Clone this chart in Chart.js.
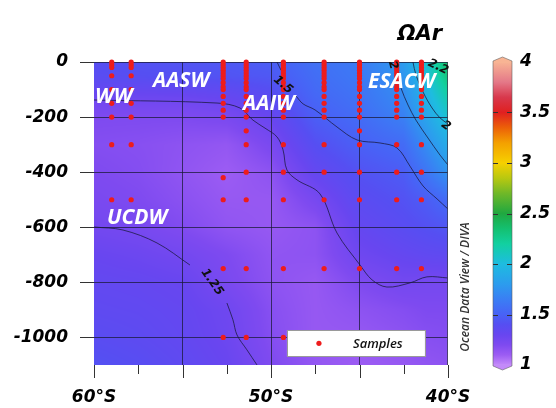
<!DOCTYPE html>
<html><head><meta charset="utf-8">
<script src="https://cdn.jsdelivr.net/npm/chart.js@4.4.1/dist/chart.umd.min.js"></script>
<style>
html,body{margin:0;padding:0;background:#fff;}
#wrap{position:relative;width:556px;height:408px;overflow:hidden;}
#main{position:absolute;left:0;top:0;width:556px;height:408px;}
#cb{position:absolute;left:470px;top:0;width:86px;height:408px;}
</style></head><body>
<div id="wrap"><canvas id="main" width="556" height="408"></canvas><canvas id="cb" width="86" height="408"></canvas></div>
<script>
// ---------- data ----------
const gridLat = [-60, -57.5, -55, -52.5, -50, -47.5, -45, -42.5, -41.25, -40];
const gridDepth = [0, -50, -100, -150, -200, -300, -400, -500, -600, -700, -800, -900, -1000, -1100];
const omegaAr = [
  [1.40,1.42,1.43,1.45,1.48,1.58,1.63,1.80,2.05,2.38],
  [1.38,1.40,1.41,1.43,1.45,1.56,1.62,1.77,2.00,2.32],
  [1.32,1.32,1.33,1.35,1.40,1.54,1.60,1.73,1.95,2.22],
  [1.25,1.25,1.25,1.28,1.36,1.51,1.58,1.70,1.90,2.13],
  [1.20,1.20,1.20,1.22,1.30,1.48,1.55,1.66,1.85,2.05],
  [1.18,1.17,1.15,1.13,1.22,1.40,1.49,1.55,1.72,1.90],
  [1.20,1.18,1.14,1.10,1.15,1.32,1.42,1.47,1.60,1.76],
  [1.22,1.20,1.16,1.12,1.12,1.23,1.37,1.42,1.47,1.55],
  [1.25,1.23,1.19,1.14,1.12,1.15,1.32,1.38,1.41,1.44],
  [1.30,1.28,1.25,1.20,1.14,1.15,1.27,1.32,1.34,1.35],
  [1.33,1.32,1.30,1.22,1.15,1.12,1.20,1.25,1.24,1.24],
  [1.35,1.34,1.32,1.27,1.17,1.12,1.15,1.18,1.20,1.20],
  [1.38,1.36,1.33,1.28,1.18,1.12,1.12,1.15,1.17,1.18],
  [1.42,1.39,1.35,1.30,1.20,1.13,1.10,1.12,1.14,1.15]
];

const stationLat = [-59.0, -57.9, -52.7, -51.4, -49.3, -47.0, -45.0, -42.9, -41.5];
const profileTop = [0, 10, 20, 30, 40, 50, 60, 75, 90, 100, 125, 150, 175, 200];
const station1Depths = [0, 10, 20, 50, 100, 150, 200, 300, 500];
const station2Depths = [0, 10, 20, 50, 100, 150, 200, 300, 500];
const station3Deep = [420, 500, 750, 1000];
const station4Deep = [250, 300, 400, 500, 750, 1000];
const station5Deep = [300, 400, 500, 750, 1000];
const station6Deep = [300, 400, 500, 750];
const station7Deep = [250, 300, 400, 500, 750];
const station8Deep = [300, 400, 500, 750];
const station9Deep = [300, 400, 500, 750];

// contour lines [lat, depth]
const contour125a = [[-60,-138],[-53.05,-149],[-51.75,-167],[-51.02,-211],[-50.34,-240],[-49.66,-272],[-49.32,-319],[-49.10,-392],[-48.53,-428],[-47.23,-479],[-46.27,-621],[-44.97,-737],[-44.29,-791],[-43.45,-817],[-42.15,-802],[-41.19,-780],[-40,-784]];
const contour125b1 = [[-60,-599],[-58.36,-610],[-56.44,-657],[-54.58,-737]];
const contour125b2 = [[-52.49,-875],[-52.15,-936],[-51.92,-991],[-51.36,-1045],[-50.79,-1100]];
const contour15a = [[-49.66,0],[-49.44,-29]];
const contour15b = [[-48.59,-123],[-48.19,-152],[-47.51,-174],[-46.27,-236],[-45.14,-283],[-43.84,-294],[-42.88,-312],[-42.15,-378],[-41.41,-450],[-40.62,-497],[-40,-534]];
const contour2 = [[-42.94,-36],[-42.66,-94],[-42.26,-156],[-41.81,-211],[-41.13,-276],[-40.45,-338],[-40,-374]];
const contour22 = [[-41.98,0],[-41.81,-47],[-41.41,-109],[-40.9,-167],[-40.45,-203],[-40,-225]];

const contourLabels = [
  {text:'1.25', lat:-53.33, dep:-799, angle:55},
  {text:'1.5', lat:-49.32, dep:-83, angle:40},
  {text:'2', lat:-43.11, dep:-12, angle:75},
  {text:'2.2', lat:-40.56, dep:-18, angle:25},
  {text:'2', lat:-40.12, dep:-232, angle:35}
];
const waterMasses = [
  {text:'WW', lat:-59.95, dep:-149},
  {text:'AASW', lat:-56.67, dep:-91},
  {text:'AAIW', lat:-51.58, dep:-174},
  {text:'ESACW', lat:-44.52, dep:-94},
  {text:'UCDW', lat:-59.27, dep:-588}
];

const cbTicks = [1, 1.5, 2, 2.5, 3, 3.5, 4];
const cmapValues = [1.0,1.1,1.2,1.3,1.4,1.5,1.65,1.8,2.0,2.2,2.35,2.5,2.7,2.85,3.0,3.2,3.35,3.5,3.65,3.8,4.0];
const cmapColors = ['#c38af9','#9c5cf3','#7e4af0','#6846f0','#564ef2','#4862f6','#3a7ef4','#2c9cee','#1ebce0','#12d0a0','#14c070','#20a840','#70b828','#b8c810','#f6d000','#f4a000','#ec6008','#e02020','#d8384c','#e47888','#f8b494'];

// ---------- helpers ----------
const cmapRGB = cmapColors.map(h => [parseInt(h.slice(1,3),16), parseInt(h.slice(3,5),16), parseInt(h.slice(5,7),16)]);
function colorFor(v){
  if (v <= cmapValues[0]) return cmapRGB[0];
  const n = cmapValues.length;
  if (v >= cmapValues[n-1]) return cmapRGB[n-1];
  for (let i=0;i<n-1;i++){
    if (v <= cmapValues[i+1]){
      const t = (v - cmapValues[i])/(cmapValues[i+1]-cmapValues[i]);
      const a = cmapRGB[i], b = cmapRGB[i+1];
      return [a[0]+(b[0]-a[0])*t, a[1]+(b[1]-a[1])*t, a[2]+(b[2]-a[2])*t];
    }
  }
  return cmapRGB[n-1];
}
function locate(arr, v){
  for (let i=0;i<arr.length-1;i++){
    const a=arr[i], b=arr[i+1];
    if ((v-a)*(v-b) <= 0) return [i, (v-a)/(b-a)];
  }
  const inc = arr[arr.length-1] > arr[0];
  if ((inc && v < arr[0]) || (!inc && v > arr[0])) return [0,0];
  return [arr.length-2, 1];
}
function fieldAt(lat, dep){
  const [i, tx] = locate(gridLat, lat);
  const [j, ty] = locate(gridDepth, dep);
  const v00 = omegaAr[j][i], v10 = omegaAr[j][i+1], v01 = omegaAr[j+1][i], v11 = omegaAr[j+1][i+1];
  return (v00*(1-tx)+v10*tx)*(1-ty) + (v01*(1-tx)+v11*tx)*ty;
}

// ---------- datasets ----------
const stationDepths = [
  station1Depths, station2Depths,
  profileTop.concat(station3Deep), profileTop.concat(station4Deep), profileTop.concat(station5Deep),
  profileTop.concat(station6Deep), profileTop.concat(station7Deep), profileTop.concat(station8Deep),
  profileTop.concat(station9Deep)
];
const samplePoints = [];
stationLat.forEach((lat, k) => stationDepths[k].forEach(d => samplePoints.push({x: lat, y: -d})));

const lineStyle = {showLine:true, pointRadius:0, borderColor:'rgba(25,25,60,0.85)', borderWidth:0.9, tension:0.35, fill:false};
function contourSet(arr){ return Object.assign({data: arr.map(p => ({x:p[0], y:p[1]}))}, lineStyle); }

const FONT = '"DejaVu Sans", "Liberation Sans", sans-serif';
const axisFont = {family: FONT, size: 17, style: 'italic', weight: 'bold'};
const gridColor = 'rgba(25,25,55,0.75)';

const fieldPlugin = {
  id: 'field',
  beforeDraw(chart){
    const {ctx, chartArea:ca, scales} = chart;
    const x0 = Math.round(ca.left), y0 = Math.round(ca.top);
    const w = Math.round(ca.right) - x0, h = Math.round(ca.bottom) - y0;
    const img = ctx.createImageData(w, h);
    for (let py=0; py<h; py++){
      const dep = scales.y.getValueForPixel(y0 + py + 0.5);
      for (let px=0; px<w; px++){
        const lat = scales.x.getValueForPixel(x0 + px + 0.5);
        const c = colorFor(fieldAt(lat, dep));
        const o = (py*w + px)*4;
        img.data[o]=c[0]; img.data[o+1]=c[1]; img.data[o+2]=c[2]; img.data[o+3]=255;
      }
    }
    ctx.putImageData(img, x0, y0);
  }
};

const overlayPlugin = {
  id: 'overlay',
  afterDraw(chart){
    const {ctx, chartArea:ca, scales} = chart;
    const X = v => scales.x.getPixelForValue(v), Y = v => scales.y.getPixelForValue(v);
    ctx.save();
    // x tick marks
    ctx.strokeStyle = '#333'; ctx.lineWidth = 1;
    scales.x.ticks.forEach(t => {
      const px = Math.round(X(t.value)) + 0.5;
      const len = (t.value % 5 === 0) ? 13 : 9;
      ctx.beginPath(); ctx.moveTo(px, ca.bottom); ctx.lineTo(px, ca.bottom + len); ctx.stroke();
    });
    // right border
    ctx.strokeStyle = 'rgba(60,60,80,0.8)';
    ctx.beginPath(); ctx.moveTo(Math.round(ca.right)-0.5, ca.top); ctx.lineTo(Math.round(ca.right)-0.5, ca.bottom); ctx.stroke();
    // contour labels
    ctx.fillStyle = '#111';
    ctx.font = 'italic bold 12px ' + FONT;
    ctx.textAlign = 'center'; ctx.textBaseline = 'middle';
    contourLabels.forEach(l => {
      ctx.save(); ctx.translate(X(l.lat), Y(l.dep)); ctx.rotate(l.angle*Math.PI/180);
      ctx.fillText(l.text, 0, 0); ctx.restore();
    });
    // water mass labels
    ctx.fillStyle = '#ffffff';
    ctx.font = 'italic bold 21px "Open Sans", ' + FONT;
    ctx.textAlign = 'left'; ctx.textBaseline = 'alphabetic';
    waterMasses.forEach(l => ctx.fillText(l.text, X(l.lat), Y(l.dep)));
    // legend box
    const lx = X(-49.1), ly = Y(-974), lw = 138, lh = 26;
    ctx.fillStyle = '#fff'; ctx.fillRect(lx, ly, lw, lh);
    ctx.strokeStyle = '#9a9a9a'; ctx.lineWidth = 1; ctx.strokeRect(Math.round(lx)+0.5, Math.round(ly)+0.5, lw, lh);
    ctx.fillStyle = '#ee1c1c';
    ctx.beginPath(); ctx.arc(lx + 32, ly + lh/2, 2.6, 0, Math.PI*2); ctx.fill();
    ctx.fillStyle = '#111'; ctx.font = 'italic 600 13px "Open Sans", ' + FONT;
    ctx.textBaseline = 'middle';
    ctx.fillText('Samples', lx + 66, ly + lh/2 + 1);
    // title
    ctx.fillStyle = '#000'; ctx.font = 'italic bold 21px ' + FONT;
    ctx.textAlign = 'center'; ctx.textBaseline = 'alphabetic';
    ctx.fillText('ΩAr', 420, 40);
    // ODV credit
    ctx.save(); ctx.translate(466, 287); ctx.rotate(-Math.PI/2);
    ctx.fillStyle = '#333'; ctx.font = 'italic 600 12px "Open Sans", ' + FONT;
    ctx.textAlign = 'center'; ctx.textBaseline = 'middle';
    ctx.fillText('Ocean Data View / DIVA', 0, 0);
    ctx.restore();
    ctx.restore();
  }
};

new Chart(document.getElementById('main'), {
  type: 'scatter',
  data: { datasets: [
    {data: samplePoints, pointRadius: 2.6, pointBackgroundColor: '#ee1c1c', pointBorderWidth: 0, clip: false},
    contourSet(contour125a), contourSet(contour125b1), contourSet(contour125b2),
    contourSet(contour15a), contourSet(contour15b), contourSet(contour2), contourSet(contour22)
  ]},
  options: {
    responsive: false, animation: false, events: [],
    layout: {padding: {top: 62, right: 108, bottom: 0, left: 0}},
    plugins: {legend: {display: false}, tooltip: {enabled: false}},
    scales: {
      x: {type: 'linear', min: -60, max: -40,
        afterFit: s => { s.height = 43; },
        ticks: {stepSize: 2.5, autoSkip: false, maxRotation: 0, padding: 22, color: '#000', font: axisFont,
          callback: v => (v % 10 === 0) ? Math.abs(v) + '°S' : ''},
        grid: {color: c => (c.tick && [-55, -50, -45].includes(c.tick.value)) ? gridColor : 'rgba(0,0,0,0)', drawTicks: false, lineWidth: 1},
        border: {display: false}},
      y: {type: 'linear', min: -1100, max: 0,
        afterFit: s => { s.width = 94; },
        ticks: {stepSize: 200, includeBounds: false, padding: 12, color: '#000', font: axisFont, callback: v => String(v)},
        grid: {color: gridColor, tickColor: '#333', tickLength: 14, drawTicks: true, lineWidth: 1},
        border: {display: false}}
    }
  },
  plugins: [fieldPlugin, overlayPlugin]
});

// ---------- colour bar ----------
const capsPlugin = {
  id: 'caps',
  afterDatasetsDraw(chart){
    const {ctx, chartArea:ca} = chart;
    const l = ca.left, r = ca.right, t = ca.top, b = ca.bottom, cx = (l+r)/2;
    ctx.save();
    ctx.fillStyle = cmapColors[cmapColors.length-1];
    ctx.beginPath(); ctx.moveTo(l, t+1); ctx.lineTo(l, t-1); ctx.lineTo(cx, t-5); ctx.lineTo(r, t-1); ctx.lineTo(r, t+1); ctx.closePath(); ctx.fill();
    ctx.fillStyle = cmapColors[0];
    ctx.beginPath(); ctx.moveTo(l, b-1); ctx.lineTo(l, b+1); ctx.lineTo(cx, b+5); ctx.lineTo(r, b+1); ctx.lineTo(r, b-1); ctx.closePath(); ctx.fill();
    ctx.strokeStyle = 'rgba(90,90,90,0.7)'; ctx.lineWidth = 0.8;
    ctx.beginPath(); ctx.moveTo(l, t-1); ctx.lineTo(cx, t-5); ctx.lineTo(r, t-1); ctx.lineTo(r, b+1); ctx.lineTo(cx, b+5); ctx.lineTo(l, b+1); ctx.closePath(); ctx.stroke();
    const ys = chart.scales.y;
    ctx.strokeStyle = '#333'; ctx.lineWidth = 1;
    cbTicks.forEach(v => {
      if (v === 1 || v === 4) return;
      const py = Math.round(ys.getPixelForValue(v)) + 0.5;
      ctx.beginPath(); ctx.moveTo(l, py); ctx.lineTo(l+5, py); ctx.moveTo(r-5, py); ctx.lineTo(r, py); ctx.stroke();
    });
    ctx.restore();
  }
};

new Chart(document.getElementById('cb'), {
  type: 'bar',
  data: {labels: [''], datasets: [{
    data: [[cbTicks[0], cbTicks[cbTicks.length-1]]],
    barPercentage: 1, categoryPercentage: 1, borderWidth: 0,
    backgroundColor: c => {
      const ca = c.chart.chartArea;
      if (!ca) return '#888';
      const g = c.chart.ctx.createLinearGradient(0, ca.bottom, 0, ca.top);
      cmapValues.forEach((v, i) => g.addColorStop((v-1)/3, cmapColors[i]));
      return g;
    }
  }]},
  options: {
    responsive: false, animation: false, events: [],
    layout: {padding: {top: 62, bottom: 43, left: 23, right: 0}},
    plugins: {legend: {display: false}, tooltip: {enabled: false}},
    scales: {
      x: {display: false},
      y: {position: 'right', min: 1, max: 4,
        afterFit: s => { s.width = 44; },
        ticks: {stepSize: 0.5, padding: 8, color: '#000', font: {family: FONT, size: 17, style: 'italic', weight: 'bold'}, callback: v => String(v)},
        grid: {display: false, drawTicks: false}, border: {display: false}}
    }
  },
  plugins: [capsPlugin]
});
</script>
</body></html>
